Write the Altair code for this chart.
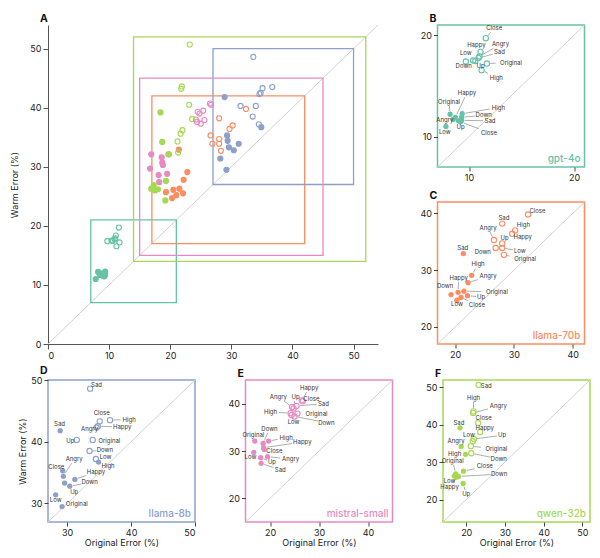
import math
import altair as alt
import pandas as pd

FONT = "Inter"
LABEL_SIZE = 6

CONDITIONS = ["Original", "Happy", "Sad", "Angry", "Up", "Down", "High", "Low", "Close"]
MODELS = ["gpt-4o", "llama-70b", "llama-8b", "mistral-small", "qwen-32b"]
COLORS = ["#66c2a5", "#fc8d62", "#8da0cb", "#e78ac3", "#a6d854"]
BOX_LO = [7, 17, 27, 15, 14]
BOX_HI = [21, 42, 50, 45, 52]
A_TICKS = [0, 10, 20, 30, 40, 50]
A_MAX = 54

# ---- gpt-4o ----
GPT4O_ABSENT_X = [8.2, 8.7, 9.3, 8.5, 9.0, 9.3, 9.35, 7.8, 9.2]
GPT4O_ABSENT_Y = [12.2, 11.9, 11.6, 11.7, 11.55, 11.9, 12.25, 11.0, 11.45]
GPT4O_PRESENT_X = [11.7, 11.1, 10.9, 11.0, 10.6, 9.7, 11.2, 10.4, 11.6]
GPT4O_PRESENT_Y = [17.2, 18.35, 17.75, 17.9, 17.45, 17.4, 16.55, 17.5, 19.7]
GPT4O_ABSENT_LX = [8.1, 9.8, 12.0, 7.7, 9.2, 11.4, 12.8, 7.7, 11.9]
GPT4O_ABSENT_LY = [13.45, 14.3, 11.55, 11.64, 10.9, 12.1, 12.86, 10.46, 10.39]
GPT4O_PRESENT_LX = [14.0, 10.7, 12.9, 13.0, 11.1, 9.5, 12.6, 9.7, 12.4]
GPT4O_PRESENT_LY = [17.3, 18.98, 18.29, 19.11, 16.91, 16.94, 15.82, 18.22, 20.69]

# ---- llama-70b ----
L70_ABSENT_X = [21.5, 20.5, 21.4, 22.2, 22.1, 19.3, 22.8, 20.3, 21.0]
L70_ABSENT_Y = [26.3, 26.1, 32.9, 27.8, 25.5, 25.7, 29.1, 24.7, 25.2]
L70_PRESENT_X = [28.3, 29.7, 28.0, 26.6, 28.0, 26.9, 30.2, 28.0, 32.4]
L70_PRESENT_Y = [32.7, 36.4, 38.2, 35.3, 34.7, 33.9, 37.0, 33.9, 39.8]
L70_ABSENT_LX = [27.1, 20.6, 21.3, 25.6, 24.4, 18.3, 23.9, 20.3, 23.7]
L70_ABSENT_LY = [26.2, 28.6, 33.9, 28.9, 25.3, 27.2, 31.0, 24.0, 23.9]
L70_PRESENT_LX = [31.9, 31.5, 28.3, 25.6, 28.4, 24.7, 31.6, 31.0, 34.0]
L70_PRESENT_LY = [31.9, 35.9, 39.2, 37.5, 35.7, 33.2, 37.9, 33.4, 40.4]

# ---- llama-8b ----
L8_ABSENT_X = [29.2, 31.2, 28.9, 29.4, 29.6, 30.4, 34.9, 28.2, 29.3]
L8_ABSENT_Y = [29.5, 33.9, 41.8, 34.4, 33.3, 32.8, 36.7, 31.4, 35.3]
L8_PRESENT_X = [34.0, 34.8, 33.6, 34.6, 31.5, 33.5, 36.7, 34.5, 35.1]
L8_PRESENT_Y = [40.3, 42.5, 48.6, 42.3, 40.3, 38.5, 43.5, 37.2, 43.3]
L8_ABSENT_LX = [31.5, 34.5, 28.8, 31.1, 31.1, 33.5, 36.4, 28.2, 28.3]
L8_ABSENT_LY = [29.9, 35.1, 42.8, 37.2, 31.8, 33.4, 36.1, 30.6, 35.9]
L8_PRESENT_LX = [36.6, 38.6, 34.6, 33.5, 30.5, 35.9, 39.7, 36.0, 35.4]
L8_PRESENT_LY = [40.2, 42.4, 49.2, 42.0, 40.2, 38.6, 43.6, 37.6, 44.7]

# ---- mistral-small ----
MIS_ABSENT_X = [16.9, 18.7, 18.2, 19.5, 18.1, 18.6, 19.7, 16.7, 18.8]
MIS_ABSENT_Y = [32.1, 30.7, 27.4, 28.8, 28.6, 31.6, 32.1, 29.7, 30.3]
MIS_PRESENT_X = [25.6, 26.5, 25.4, 24.5, 24.8, 25.0, 24.2, 24.4, 26.7]
MIS_PRESENT_Y = [37.9, 40.7, 39.5, 39.3, 39.0, 37.3, 38.0, 37.6, 40.5]
MIS_ABSENT_LX = [16.6, 26.6, 22.1, 24.2, 20.4, 19.9, 23.3, 16.0, 20.9]
MIS_ABSENT_LY = [33.3, 31.9, 26.0, 28.3, 27.6, 34.7, 32.8, 28.7, 29.9]
MIS_PRESENT_LX = [29.5, 28.0, 30.9, 21.7, 25.2, 31.5, 20.1, 24.8, 28.45]
MIS_PRESENT_LY = [37.9, 43.3, 40.0, 41.4, 41.4, 36.0, 38.2, 36.2, 40.9]

# ---- qwen-32b ----
QW_ABSENT_X = [17.3, 17.5, 18.4, 18.7, 19.2, 18.0, 19.8, 16.9, 19.3]
QW_ABSENT_Y = [26.9, 26.0, 39.2, 34.2, 24.3, 26.2, 32.1, 26.3, 27.6]
QW_PRESENT_X = [21.2, 23.6, 23.2, 21.8, 22.0, 21.3, 21.9, 21.7, 23.1]
QW_PRESENT_Y = [34.3, 38.1, 50.7, 43.2, 36.2, 32.4, 43.6, 35.6, 40.5]
QW_ABSENT_LX = [16.5, 15.7, 18.1, 17.4, 20.0, 28.5, 17.0, 15.7, 24.8]
QW_ABSENT_LY = [30.4, 23.4, 40.5, 35.6, 21.5, 26.8, 32.2, 25.0, 28.9]
QW_PRESENT_LX = [27.8, 24.8, 25.2, 28.3, 29.3, 28.4, 21.9, 20.7, 24.5]
QW_PRESENT_LY = [33.5, 39.2, 50.5, 45.0, 37.2, 30.9, 47.3, 37.4, 41.7]

SERIES = [
    (GPT4O_ABSENT_X, GPT4O_ABSENT_Y, GPT4O_PRESENT_X, GPT4O_PRESENT_Y,
     GPT4O_ABSENT_LX, GPT4O_ABSENT_LY, GPT4O_PRESENT_LX, GPT4O_PRESENT_LY),
    (L70_ABSENT_X, L70_ABSENT_Y, L70_PRESENT_X, L70_PRESENT_Y,
     L70_ABSENT_LX, L70_ABSENT_LY, L70_PRESENT_LX, L70_PRESENT_LY),
    (L8_ABSENT_X, L8_ABSENT_Y, L8_PRESENT_X, L8_PRESENT_Y,
     L8_ABSENT_LX, L8_ABSENT_LY, L8_PRESENT_LX, L8_PRESENT_LY),
    (MIS_ABSENT_X, MIS_ABSENT_Y, MIS_PRESENT_X, MIS_PRESENT_Y,
     MIS_ABSENT_LX, MIS_ABSENT_LY, MIS_PRESENT_LX, MIS_PRESENT_LY),
    (QW_ABSENT_X, QW_ABSENT_Y, QW_PRESENT_X, QW_PRESENT_Y,
     QW_ABSENT_LX, QW_ABSENT_LY, QW_PRESENT_LX, QW_PRESENT_LY),
]
SMALL_TICKS = [[10, 20], [20, 30, 40], [30, 40, 50], [20, 30, 40], [20, 30, 40, 50]]

SW, SH = 147, 142
AW, AH = 330, 319


def build_points(series, lo, hi, W, H):
    ax, ay, px, py, alx, aly, plx, ply = series
    sx = W / (hi - lo)
    sy = H / (hi - lo)
    rows = []
    for belief, xs, ys, lxs, lys in (("absent", ax, ay, alx, aly),
                                     ("present", px, py, plx, ply)):
        for cond, x, y, lx, ly in zip(CONDITIONS, xs, ys, lxs, lys):
            dx = (x - lx) * sx
            dy = (y - ly) * sy
            hw = len(cond) * LABEL_SIZE * 0.29 + 1.5
            hh = LABEL_SIZE * 0.6 + 0.5
            dist = math.hypot(dx, dy)
            seg = False
            s1x = s1y = s2x = s2y = 0.0
            if dist > 0:
                tx = hw / abs(dx) if dx != 0 else float("inf")
                ty = hh / abs(dy) if dy != 0 else float("inf")
                t0 = min(tx, ty)
                f2 = 1 - 3.2 / dist
                if t0 < 1 and (f2 - t0) * dist > 2.5:
                    seg = True
                    s1x = lx + dx * t0 / sx
                    s1y = ly + dy * t0 / sy
                    s2x = lx + dx * f2 / sx
                    s2y = ly + dy * f2 / sy
            rows.append(dict(x=x, y=y, belief=belief, cond=cond, lx=lx, ly=ly,
                             seg=seg, sx1=s1x, sy1=s1y, sx2=s2x, sy2=s2y))
    return pd.DataFrame(rows)


def small_panel(idx, letter, xtitle, ytitle):
    lo, hi = BOX_LO[idx], BOX_HI[idx]
    color = COLORS[idx]
    ticks = SMALL_TICKS[idx]
    df = build_points(SERIES[idx], lo, hi, SW, SH)
    sc = alt.Scale(domain=[lo, hi], nice=False, zero=False)
    common = dict(domain=False, grid=False, tickSize=4, tickColor="#444",
                  labelFontSize=9, labelColor="#222", labelPadding=2,
                  titleFontSize=9, titleFontWeight="normal", titleColor="#222")
    xaxis = alt.Axis(values=ticks, titlePadding=1, **common)
    yaxis = alt.Axis(values=ticks, titlePadding=3, **common)

    def X(f):
        return alt.X(f, type="quantitative", scale=sc, axis=xaxis, title=xtitle)

    def Y(f):
        return alt.Y(f, type="quantitative", scale=sc, axis=yaxis, title=ytitle)

    diag = alt.Chart(pd.DataFrame({"lo": [lo], "hi": [hi]})).mark_rule(
        color="#d2d2d2", strokeWidth=1).encode(x=X("lo"), y=Y("lo"), x2="hi", y2="hi")
    base = alt.Chart(df)
    segs = base.transform_filter("datum.seg").mark_rule(
        color="#999999", strokeWidth=0.8).encode(x=X("sx1"), y=Y("sy1"), x2="sx2", y2="sy2")
    absent = base.transform_filter("datum.belief == 'absent'").mark_circle(
        size=28, color=color, opacity=1).encode(x=X("x"), y=Y("y"))
    present = base.transform_filter("datum.belief == 'present'").mark_point(
        shape="circle", size=28, color=color, filled=False, strokeWidth=1.1,
        opacity=1).encode(x=X("x"), y=Y("y"))
    labels = base.mark_text(fontSize=LABEL_SIZE, color="#333", font=FONT).encode(
        x=X("lx"), y=Y("ly"), text="cond:N")
    name = alt.Chart(pd.DataFrame({"name": [MODELS[idx]]})).mark_text(
        align="right", baseline="bottom", fontSize=10, fontWeight=500,
        color=color, font=FONT).encode(x=alt.value(SW - 4), y=alt.value(SH - 3),
                                       text="name:N")
    return alt.layer(diag, segs, absent, present, labels, name).properties(
        width=SW, height=SH,
        view=alt.ViewBackground(stroke=color, strokeWidth=1.5),
        title=alt.TitleParams(letter, anchor="start", frame="group", dx=-8,
                              fontSize=10.5, fontWeight="bold", offset=0,
                              font=FONT, color="#111"))


# ---- Panel A ----
a_rows = []
for i, m in enumerate(MODELS):
    ax, ay, px, py = SERIES[i][:4]
    for x, y in zip(ax, ay):
        a_rows.append(dict(orig=x, warm=y, model=m, belief="absent"))
    for x, y in zip(px, py):
        a_rows.append(dict(orig=x, warm=y, model=m, belief="present"))
dfA = pd.DataFrame(a_rows)

scA = alt.Scale(domain=[0, A_MAX], nice=False, zero=False)
axA = dict(values=A_TICKS, domain=True, domainColor="#555", tickColor="#555",
           tickSize=5, grid=False, labelFontSize=9, labelColor="#222",
           labelPadding=2, titleFontSize=9, titleFontWeight="normal",
           titleColor="#222", titlePadding=10)
xA = alt.Axis(**axA)
yA = alt.Axis(**axA)
cscale = alt.Scale(domain=MODELS, range=COLORS)


def XA(f):
    return alt.X(f, type="quantitative", scale=scA, axis=xA, title=None)


def YA(f):
    return alt.Y(f, type="quantitative", scale=scA, axis=yA, title="Warm Error (%)")


diagA = alt.Chart(pd.DataFrame({"lo": [0], "hi": [A_MAX]})).mark_rule(
    color="#d2d2d2", strokeWidth=1).encode(x=XA("lo"), y=YA("lo"), x2="hi", y2="hi")
rects = alt.Chart(pd.DataFrame({"model": MODELS, "lo": BOX_LO, "hi": BOX_HI})).mark_rect(
    fillOpacity=0, strokeWidth=1.3).encode(
    x=XA("lo"), y=YA("lo"), x2="hi", y2="hi",
    stroke=alt.Stroke("model:N", scale=cscale, legend=None))
ptsA = alt.Chart(dfA).mark_point(shape="circle", size=26, strokeWidth=1.1, opacity=1).encode(
    x=XA("orig"), y=YA("warm"),
    stroke=alt.Stroke("model:N", scale=cscale, legend=None),
    fill=alt.Fill("model:N", scale=cscale, legend=None),
    fillOpacity=alt.FillOpacity(
        "belief:O", scale=alt.Scale(domain=["absent", "present"], range=[1, 0]),
        legend=alt.Legend(title="User belief:", orient="none", legendX=280, legendY=273,
                          titleFontSize=9, titleFontWeight="normal", titleColor="#222",
                          labelFontSize=9, labelColor="#222", symbolFillColor="#111",
                          symbolStrokeColor="#111", symbolStrokeWidth=1.2,
                          symbolSize=36, symbolType="circle", rowPadding=2,
                          titlePadding=5)))
panelA = alt.layer(diagA, rects, ptsA).properties(
    width=AW, height=AH,
    view=alt.ViewBackground(stroke="transparent"),
    title=alt.TitleParams("A", anchor="start", frame="group", dx=-8, fontSize=10.5,
                          fontWeight="bold", offset=0, font=FONT, color="#111"))

pB = small_panel(0, "B", None, None)
pC = small_panel(1, "C", None, None)
pD = small_panel(2, "D", "Original Error (%)", "Warm Error (%)")
pE = small_panel(3, "E", "Original Error (%)", None)
pF = small_panel(4, "F", "Original Error (%)", None)

IND = dict(fillOpacity="independent", stroke="independent", fill="independent")
right_col = alt.vconcat(pB, pC, spacing=35, bounds="flush")
top = alt.hconcat(panelA, right_col, spacing=39.5).resolve_scale(**IND).resolve_legend(**IND)
bottom = alt.hconcat(pD, pE, pF, spacing=50.5, bounds="flush")
chart = alt.vconcat(top, bottom, spacing=3).resolve_scale(**IND).resolve_legend(**IND).properties(
    padding={"left": 2, "top": 5, "right": 0, "bottom": 0}
).configure(font=FONT).configure_axis(labelFont=FONT, titleFont=FONT).configure_legend(
    labelFont=FONT, titleFont=FONT).configure_title(font=FONT)

chart.save("out.html", embed_options={"renderer": "svg", "actions": False})
